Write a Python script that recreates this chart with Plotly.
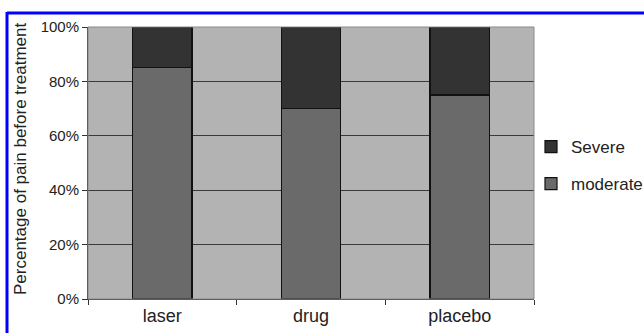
import plotly.graph_objects as go

# Pain severity share before treatment, by treatment group
groups = ["laser", "drug", "placebo"]
moderate = [85, 70, 75]
severe = [15, 30, 25]
y_ticks = [0, 20, 40, 60, 80, 100]
y_tick_labels = ["0%", "20%", "40%", "60%", "80%", "100%"]

W, H = 644, 333
ML, MR, MT, MB = 88, 110, 27, 34
PW, PH = W - ML - MR, H - MT - MB


def px_x(x):
    return (x - ML) / PW


def px_y(y):
    return 1 - (y - MT) / PH


fig = go.Figure()
fig.add_trace(go.Bar(
    x=groups, y=moderate, name="moderate", legendgroup="m", legendrank=2,
    marker=dict(color="#6a6a6a", line=dict(color="#111111", width=1.2)),
    width=0.4,
))
fig.add_trace(go.Bar(
    x=groups, y=severe, name="Severe", legendgroup="s", legendrank=1,
    marker=dict(color="#333333", line=dict(color="#111111", width=1.2)),
    width=0.4,
))

shapes = [
    # plot-area frame
    dict(type="rect", xref="paper", yref="paper", x0=0, x1=1, y0=0, y1=1,
         line=dict(color="#8a8a8a", width=1), layer="above"),
    # blue frame lines (top and left)
    dict(type="line", xref="paper", yref="paper",
         x0=px_x(7), x1=px_x(650), y0=px_y(13), y1=px_y(13),
         line=dict(color="#0000ff", width=3)),
    dict(type="line", xref="paper", yref="paper",
         x0=px_x(7), x1=px_x(7), y0=px_y(12), y1=px_y(340),
         line=dict(color="#0000ff", width=3)),
]

fig.update_layout(
    width=W, height=H,
    margin=dict(l=ML, r=MR, t=MT, b=MB, autoexpand=False),
    paper_bgcolor="white",
    plot_bgcolor="#b3b3b3",
    barmode="stack",
    bargap=0.6,
    font=dict(family="Liberation Sans, Arial, sans-serif", size=18, color="#222222"),
    showlegend=True,
    legend=dict(
        x=px_x(531), y=px_y(129), xanchor="left", yanchor="top",
        traceorder="grouped", tracegroupgap=12,
        font=dict(size=17, color="#222222"),
        bgcolor="rgba(0,0,0,0)",
    ),
    xaxis=dict(
        showgrid=False,
        showline=True, linecolor="#333333", linewidth=1,
        ticks="outside", ticklen=5, tickcolor="#333333",
        tickson="boundaries",
        tickfont=dict(size=18),
    ),
    yaxis=dict(
        range=[0, 100],
        tickvals=y_ticks, ticktext=y_tick_labels,
        showgrid=True, gridcolor="#3a3a3a", gridwidth=1,
        showline=True, linecolor="#333333", linewidth=1,
        ticks="outside", ticklen=5, tickcolor="#333333",
        tickfont=dict(family="Liberation Sans Narrow, Arial Narrow, Liberation Sans, sans-serif", size=15),
        zeroline=False,
    ),
    shapes=shapes,
    annotations=[dict(
        text="Percentage of pain before treatment",
        xref="paper", yref="paper", x=px_x(20), y=px_y(159),
        xanchor="center", yanchor="middle", textangle=-90, showarrow=False,
        font=dict(size=17, color="#222222"),
    )],
)

fig.write_html("out.html")
